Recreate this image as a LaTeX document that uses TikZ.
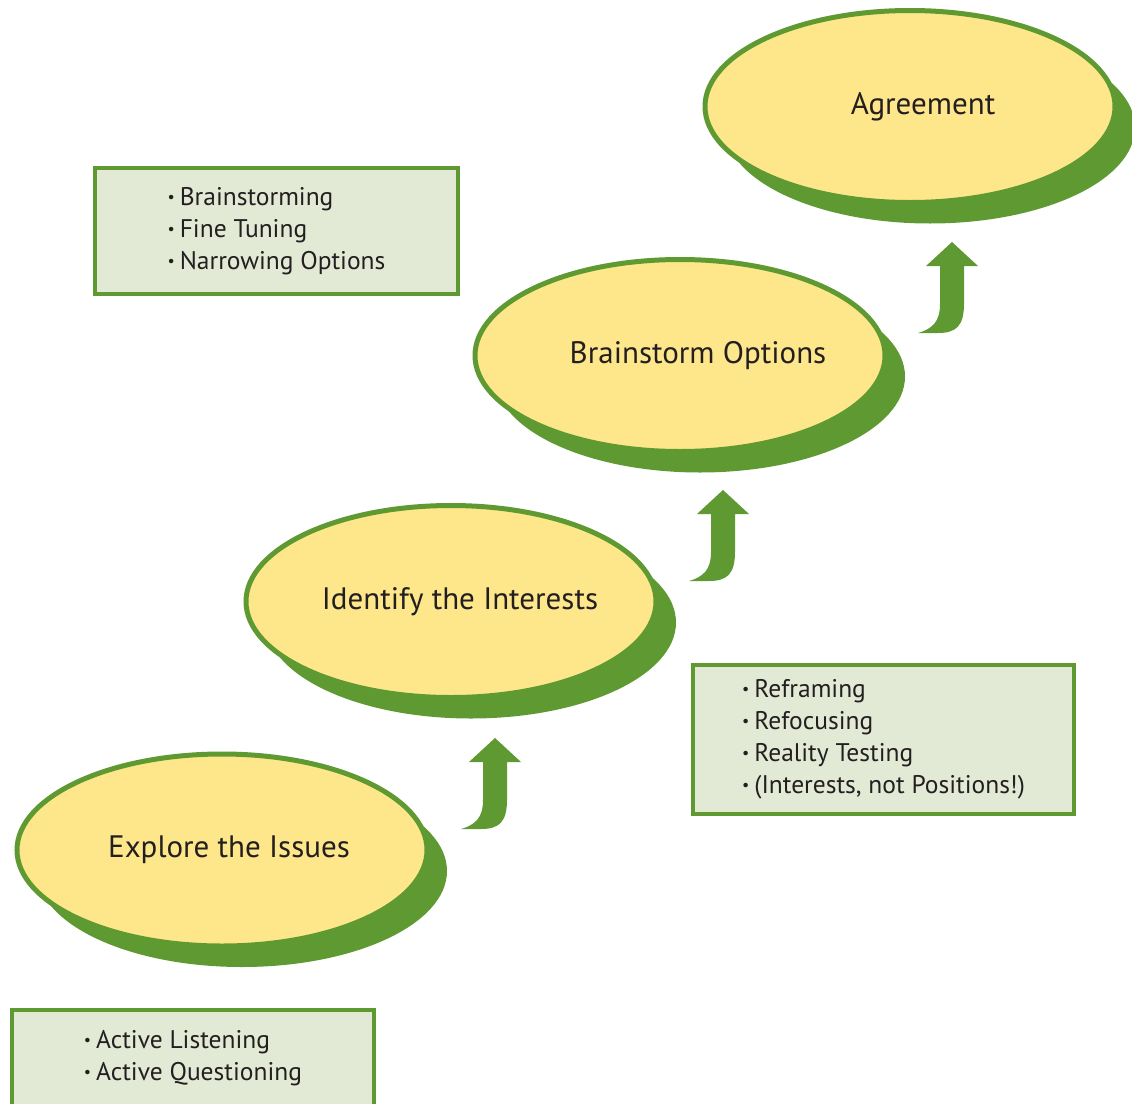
\documentclass[tikz,border=0pt]{standalone}
\usepackage{fontspec}
\setmainfont{PT Sans}
\usetikzlibrary{shapes.geometric,shadows}
\definecolor{leaf}{RGB}{95,153,50}
\definecolor{sun}{RGB}{253,231,138}
\definecolor{mint}{RGB}{226,234,214}
\definecolor{ink}{RGB}{35,31,32}
\newcommand\bul{\raisebox{0.22ex}{\fontsize{16}{16}\selectfont•}\hspace{5pt}}
\tikzset{
  stage/.style={ellipse, draw=leaf, line width=5pt, fill=sun, inner sep=0pt,
    minimum width=410pt, minimum height=192pt,
    drop shadow={shadow xshift=20pt, shadow yshift=-21pt, fill=leaf, opacity=1}},
  stagetext/.style={text=ink, font=\fontsize{31}{34}\selectfont, inner sep=0pt},
  notebox/.style={draw=leaf, line width=4.5pt, fill=mint, inner sep=0pt,
    align=left, text=ink, font=\fontsize{25.5}{32}\selectfont},
  climb/.pic={
    \fill[leaf] (0,0) -- (26,24) -- (12,24) -- (12,62)
      .. controls (12,84) and (4,91) .. (-14,91) -- (-34,91)
      .. controls (-20,87) and (-12,80) .. (-12,62) -- (-12,24) -- (-26,24) -- cycle;
  }
}
\begin{document}
\begin{tikzpicture}[x=1pt,y=-1pt]
  \useasboundingbox (0,0) rectangle (1132,1103);

  % the four stages, rising from lower left to upper right
  \node[stage] (e1) at (222,850) {};
  \node[stage] (e2) at (451,601.5) {};
  \node[stage] (e3) at (680,355.5) {};
  \node[stage] (e4) at (910,106.5) {};

  \node[stagetext] (t1) at ([xshift=7pt]e1.center) {Explore the Issues};
  \node[stagetext] (t2) at ([xshift=9pt]e2.center) {Identify the Interests};
  \node[stagetext] (t3) at ([xshift=18pt]e3.center) {Brainstorm Options};
  \node[stagetext] (t4) at ([xshift=13pt]e4.center) {Agreement};

  % upward arrows between the stages
  \pic at (495,738) {climb};
  \pic at (723,490) {climb};
  \pic at (952,242) {climb};

  % technique lists
  \node[notebox, minimum width=363pt, minimum height=126pt] (b3) at (276.5,231)
    {\bul Brainstorming\\ \bul Fine Tuning\\ \bul Narrowing Options};
  \node[notebox, minimum width=381pt, minimum height=149pt] (b2) at (883.5,739.5)
    {\bul Reframing\\ \bul Refocusing\\ \bul Reality Testing\\ \bul (Interests, not Positions!)};
  \node[notebox, minimum width=362pt, minimum height=96pt] (b1) at (193,1058)
    {\bul Active Listening\\ \bul Active Questioning};
\end{tikzpicture}
\end{document}
